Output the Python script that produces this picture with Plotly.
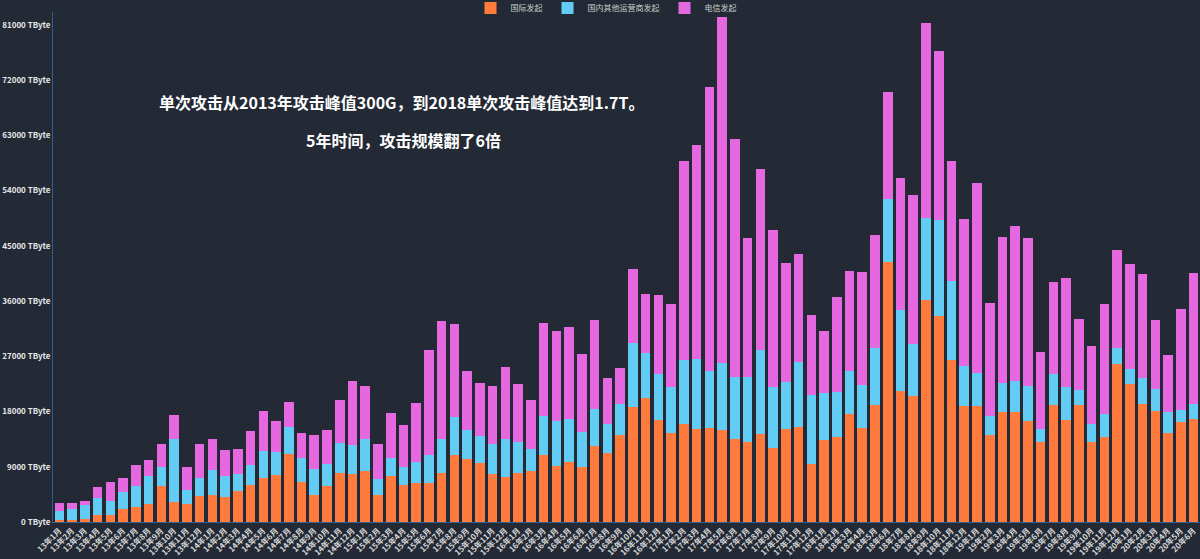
import plotly.graph_objects as go

# month labels 13年1月 .. 20年6月
months = [f"{y}年{m}月" for y in range(13, 21) for m in range(1, 13)][:90]

intl = [
    300, 400, 550, 1150, 1100, 2200, 2400, 3000, 5800, 3200,
    2900, 4250, 4450, 4050, 5000, 6000, 7200, 7600, 11100, 6500,
    4400, 5850, 8050, 7850, 8350, 4450, 7500, 5950, 6350, 6300,
    8050, 10900, 10200, 9550, 7800, 7400, 8050, 8250, 10900, 9100,
    9750, 8900, 12400, 11200, 14100, 18800, 20150, 16700, 14550, 15900,
    15200, 15350, 15000, 13450, 13050, 14300, 12000, 15100, 15550, 9500,
    13350, 13850, 17650, 15350, 19050, 42400, 21350, 20550, 36150, 33550,
    26350, 18900, 18900, 14100, 17900, 17900, 16450, 13050, 19050, 16700,
    19050, 13050, 13850, 25700, 22450, 19300, 18100, 14450, 16350, 16850,
]
other_isp = [
    1500, 1650, 2200, 2800, 2300, 2650, 3500, 4450, 3150, 10250,
    2300, 3000, 4000, 3450, 2750, 3300, 4450, 3850, 4400, 3850,
    4250, 3600, 4900, 4750, 5100, 2500, 2950, 3000, 3450, 4650,
    5400, 6250, 4850, 4400, 4850, 6100, 5000, 3700, 6350, 7350,
    7100, 5750, 6000, 4700, 5150, 10300, 7450, 7350, 7450, 10500,
    11300, 9250, 10850, 10200, 10650, 13700, 10050, 7750, 10550, 11200,
    7700, 7400, 6950, 7050, 9300, 10300, 13150, 8400, 13350, 15650,
    12900, 6600, 5400, 3150, 4700, 5150, 5700, 2050, 5100, 5350,
    2450, 3000, 3800, 2700, 2550, 4100, 3650, 3450, 1850, 2350,
]
telecom = [
    1250, 1000, 700, 1700, 3100, 2350, 3400, 2600, 3700, 4050,
    3700, 5400, 5150, 4300, 4100, 5500, 6500, 5000, 4000, 4200,
    5500, 5600, 7000, 10400, 8700, 5700, 7350, 6900, 9550, 17050,
    19300, 15050, 9600, 8700, 9500, 11700, 9500, 7900, 15100, 14700,
    15000, 12700, 14450, 7500, 5850, 12150, 9500, 12900, 13500, 32350,
    35000, 46300, 56450, 38800, 22500, 29550, 25450, 19400, 17600, 13000,
    10150, 15450, 16350, 18300, 18350, 17350, 21550, 24300, 31850, 27550,
    19500, 23800, 30900, 18450, 23850, 25150, 24100, 12650, 15000, 17750,
    11600, 12550, 17800, 15900, 17000, 16950, 11200, 9250, 16550, 21350,
]

series = [
    ("国际发起", intl, "#ff7a3d"),
    ("国内其他运营商发起", other_isp, "#62ccf5"),
    ("电信发起", telecom, "#e568e0"),
]

BG = "#232a35"
FONT = "Noto Sans CJK SC"
W, H = 1200, 559
ML, MR, MT, MB = 53, 0, 12, 37

fig = go.Figure()
for name, values, color in series:
    fig.add_trace(
        go.Bar(
            x=months,
            y=values,
            name=name,
            marker={"color": color, "line": {"width": 0}},
        )
    )

fig.update_xaxes(
    tickmode="array",
    tickvals=months,
    ticktext=months,
    tickangle=-45,
    tickfont={"size": 8, "color": "#d8d8d8", "weight": 600},
    showline=True,
    linecolor="#2f5f8e",
    linewidth=1,
    showgrid=False,
    ticklen=0,
    automargin=False,
)
fig.update_yaxes(
    range=[0, 83100],
    tickmode="linear",
    tick0=0,
    dtick=9000,
    tickformat="d",
    ticksuffix=" TByte",
    tickfont={"size": 8, "color": "#e8e8e8", "weight": 600},
    showline=True,
    linecolor="#2f5f8e",
    linewidth=1,
    showgrid=False,
    zeroline=False,
    automargin=False,
)


def px_to_paper(px, py):
    # pixel position in the page -> paper fraction of the plot area
    return (px - ML) / (W - ML - MR), (H - MB - py) / (H - MT - MB)


notes = [
    ("<b>单次攻击从2013年攻击峰值300G，到2018单次攻击峰值达到1.7T。</b>", 401, 102),
    ("<b>5年时间，攻击规模翻了6倍</b>", 403, 140),
]
for text, px, py in notes:
    ax, ay = px_to_paper(px, py)
    fig.add_annotation(
        text=text,
        x=ax, y=ay, xref="paper", yref="paper",
        xanchor="center", yanchor="middle",
        showarrow=False,
        font={"size": 16, "color": "white", "family": FONT},
    )

fig.update_layout(
    barmode="stack",
    bargap=0.25,
    width=W,
    height=H,
    margin={"l": ML, "r": MR, "t": MT, "b": MB, "autoexpand": False},
    paper_bgcolor=BG,
    plot_bgcolor=BG,
    font={"family": FONT, "color": "#dddddd"},
    showlegend=True,
    legend={
        "orientation": "h",
        "xref": "container",
        "yref": "container",
        "x": 606 / W,
        "xanchor": "center",
        "y": 1 - 8 / H,
        "yanchor": "middle",
        "font": {"size": 8, "color": "#cccccc"},
        "bgcolor": "rgba(0,0,0,0)",
        "traceorder": "normal",
        "itemwidth": 30,
    },
)

# drop the browser's default page margin so the figure sits at (0, 0)
fig.write_html(
    "out.html",
    config={"displayModeBar": False},
    post_script="document.body.style.margin = '0';",
)
